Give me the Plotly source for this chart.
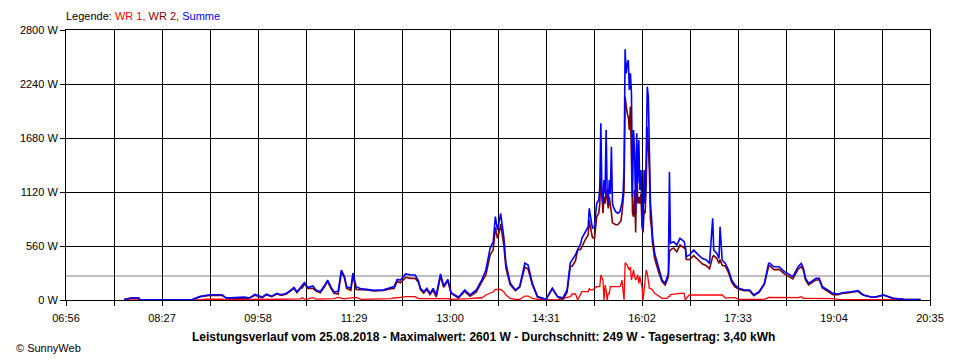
import plotly.graph_objects as go

# ---- data (time, Summe, WR 2, WR 1) ----
times = [
    "07:51", "07:58", "08:05", "08:06", "08:30", "08:56", "09:03", "09:08", "09:12", "09:24",
    "09:28", "09:36", "09:45", "09:50", "09:55", "10:02", "10:06", "10:11", "10:16", "10:20",
    "10:25", "10:29", "10:32", "10:35", "10:38", "10:40", "10:42", "10:45", "10:50", "10:53",
    "10:57", "11:01", "11:04", "11:07", "11:10", "11:14", "11:17", "11:20", "11:22", "11:26",
    "11:28", "11:31", "11:36", "11:41", "11:48", "11:57", "12:04", "12:07", "12:10", "12:13",
    "12:18", "12:23", "12:27", "12:30", "12:32", "12:35", "12:38", "12:41", "12:44", "12:47",
    "12:51", "12:54", "12:58", "13:01", "13:08", "13:14", "13:19", "13:25", "13:30", "13:34",
    "13:38", "13:41", "13:43", "13:45", "13:47", "13:48", "13:51", "13:53", "13:57", "14:02",
    "14:06", "14:11", "14:14", "14:18", "14:23", "14:31", "14:37", "14:40", "14:42", "14:47",
    "14:51", "14:54", "14:56", "14:59", "15:01", "15:04", "15:05", "15:08", "15:11", "15:12",
    "15:13", "15:15", "15:17", "15:19", "15:21", "15:22", "15:23", "15:24", "15:25", "15:26",
    "15:27", "15:28", "15:29", "15:30", "15:31", "15:32", "15:33", "15:34", "15:35", "15:37",
    "15:39", "15:41", "15:42", "15:43", "15:44", "15:45", "15:46", "15:47", "15:48", "15:49",
    "15:50", "15:51", "15:52", "15:53", "15:54", "15:55", "15:56", "15:57", "15:58", "15:59",
    "16:00", "16:01", "16:02", "16:03", "16:04", "16:05", "16:06", "16:07", "16:08", "16:09",
    "16:10", "16:11", "16:12", "16:14", "16:18", "16:21", "16:24", "16:26", "16:27", "16:28",
    "16:29", "16:32", "16:35", "16:38", "16:42", "16:43", "16:44", "16:47", "16:51", "16:54",
    "16:59", "17:03", "17:06", "17:09", "17:10", "17:13", "17:15", "17:16", "17:18", "17:21",
    "17:24", "17:27", "17:30", "17:34", "17:39", "17:44", "17:48", "17:53", "17:58", "18:02",
    "18:03", "18:07", "18:12", "18:17", "18:20", "18:25", "18:30", "18:33", "18:35", "18:37",
    "18:40", "18:44", "18:47", "18:50", "18:53", "18:58", "19:03", "19:08", "19:12", "19:20",
    "19:27", "19:29", "19:32", "19:40", "19:45", "19:51", "19:56", "20:00", "20:10", "20:26",
]

summe = [
    5, 20, 20, 5, 3, 5, 35, 50, 55, 55,
    20, 25, 30, 20, 58, 30, 60, 40, 70, 55,
    70, 100, 130, 86, 130, 150, 180, 130, 145, 104,
    86, 150, 207, 138, 83, 90, 311, 242, 138, 121,
    280, 138, 115, 110, 100, 105, 130, 140, 214, 207,
    270, 259, 259, 200, 121, 86, 121, 69, 121, 52,
    270, 145, 214, 76, 28, 104, 52, 104, 207, 311,
    536, 605, 864, 726, 830, 899, 656, 383, 176, 104,
    138, 383, 363, 176, 35, 7, 121, 60, 35, 21,
    104, 383, 415, 470, 520, 588, 640, 708, 760, 951,
    864, 746, 760, 1000, 1037, 1175, 1832, 1100, 1003, 1244,
    1106, 1763, 1100, 1003, 1244, 1100, 1590, 1003, 960, 916,
    900, 916, 960, 1003, 1100, 1348, 2600, 2351, 2450, 2489,
    2178, 2351, 2143, 1071, 1763, 1521, 900, 1729, 1210, 1659,
    1140, 1348, 899, 726, 1348, 1003, 1500, 2212, 2108, 1417,
    1000, 864, 656, 484, 311, 207, 173, 242, 277, 1330,
    588, 605, 570, 640, 605, 553, 449, 467, 518, 484,
    432, 415, 380, 847, 518, 484, 432, 760, 415, 380,
    311, 207, 156, 121, 104, 104, 52, 86, 173, 380,
    383, 345, 345, 294, 277, 242, 345, 380, 328, 225,
    173, 207, 225, 225, 138, 104, 69, 62, 76, 86,
    97, 76, 52, 28, 35, 52, 35, 17, 7, 5,
]

wr2 = [
    5, 20, 20, 5, 3, 5, 35, 42, 47, 47,
    20, 17, 22, 20, 50, 25, 55, 35, 62, 47,
    62, 90, 120, 76, 118, 126, 170, 120, 121, 94,
    76, 136, 193, 124, 69, 62, 290, 230, 121, 100,
    252, 110, 108, 103, 93, 98, 116, 119, 193, 179,
    235, 224, 224, 186, 107, 72, 107, 55, 100, 31,
    249, 131, 200, 69, 21, 90, 38, 83, 186, 259,
    467, 520, 753, 640, 720, 790, 570, 331, 159, 97,
    131, 342, 322, 159, 28, 5, 119, 58, 33, 4,
    80, 348, 353, 408, 520, 526, 554, 622, 674, 830,
    760, 650, 640, 860, 900, 1000, 1276, 1000, 900, 1070,
    1000, 1150, 1000, 950, 1070, 1000, 900, 800, 790, 780,
    780, 800, 820, 900, 1000, 1140, 2108, 2000, 1935, 1900,
    1763, 2005, 1417, 900, 864, 1140, 700, 1500, 1000, 1070,
    1000, 1100, 760, 700, 933, 900, 1200, 1797, 1600, 1348,
    830, 750, 588, 430, 280, 190, 155, 220, 240, 500,
    520, 540, 500, 570, 540, 553, 420, 420, 460, 430,
    375, 355, 325, 450, 460, 430, 380, 420, 360, 350,
    285, 185, 135, 112, 97, 97, 45, 79, 165, 350,
    355, 315, 318, 270, 253, 218, 320, 345, 310, 208,
    156, 190, 208, 210, 124, 90, 55, 55, 69, 79,
    90, 69, 50, 28, 35, 52, 35, 17, 7, 5,
]

wr1 = [
    0, 0, 0, 0, 0, 0, 0, 8, 8, 8,
    0, 8, 8, 0, 8, 5, 5, 5, 8, 8,
    8, 10, 10, 10, 12, 24, 10, 10, 24, 10,
    10, 14, 14, 14, 14, 28, 21, 12, 17, 21,
    28, 28, 7, 7, 7, 7, 14, 21, 21, 28,
    35, 35, 35, 14, 14, 14, 14, 14, 21, 21,
    21, 14, 14, 7, 7, 14, 14, 21, 21, 52,
    69, 85, 111, 111, 111, 109, 86, 52, 17, 7,
    7, 41, 41, 17, 7, 2, 2, 2, 2, 17,
    24, 35, 62, 62, 0, 62, 86, 86, 86, 121,
    104, 104, 120, 138, 138, 138, 259, 230, 207, 0,
    155, 100, 0, 69, 69, 138, 138, 138, 138, 138,
    138, 138, 160, 207, 100, 0, 387, 375, 363, 330,
    311, 345, 207, 260, 311, 242, 207, 230, 259, 173,
    242, 180, 138, 0, 150, 207, 311, 277, 200, 121,
    121, 115, 104, 70, 35, 17, 17, 20, 35, 35,
    55, 62, 69, 69, 69, 0, 20, 52, 52, 52,
    59, 59, 59, 52, 52, 52, 52, 52, 52, 20,
    24, 24, 24, 7, 7, 7, 7, 7, 7, 28,
    28, 28, 28, 24, 24, 24, 24, 35, 17, 17,
    17, 17, 17, 14, 14, 14, 14, 7, 7, 7,
    7, 7, 0, 0, 0, 0, 0, 0, 0, 0,
]

x_tick_labels = ["06:56", "08:27", "09:58", "11:29", "13:00",
                 "14:31", "16:02", "17:33", "19:04", "20:35"]
y_tick_values = [0, 560, 1120, 1680, 2240, 2800]
average_w = 249
title_text = ("Leistungsverlauf vom 25.08.2018 - Maximalwert: 2601 W - "
              "Durchschnitt: 249 W - Tagesertrag: 3,40 kWh")


def to_min(s):
    h, m = s.split(":")
    return int(h) * 60 + int(m)


x = [to_min(t) for t in times]

# ticks: labelled every 2nd gridline, midpoints unlabelled
lab_vals = [to_min(t) for t in x_tick_labels]
tickvals, ticktext = [], []
for i, v in enumerate(lab_vals):
    tickvals.append(v)
    ticktext.append(x_tick_labels[i])
    if i < len(lab_vals) - 1:
        tickvals.append((v + lab_vals[i + 1]) / 2)
        ticktext.append("")

FONT = "Liberation Sans, Arial, sans-serif"

fig = go.Figure()
fig.add_trace(go.Scatter(x=x, y=wr1, mode="lines", name="WR 1",
                         line=dict(color="#ff0000", width=1.3)))
fig.add_trace(go.Scatter(x=x, y=wr2, mode="lines", name="WR 2",
                         line=dict(color="#800000", width=1.6)))
fig.add_trace(go.Scatter(x=x, y=summe, mode="lines", name="Summe",
                         line=dict(color="#0000ff", width=1.6)))

fig.add_shape(type="line", xref="paper", x0=0, x1=1, yref="y",
              y0=average_w, y1=average_w,
              line=dict(color="#808080", width=1), layer="below")

# page has an 8px body margin: figure is 952x352 so that the plot
# area sits at x 60..930, y 30..300 in the 960x360 window
fig.update_layout(
    width=952, height=352,
    margin=dict(l=52, r=30, t=22, b=60),
    paper_bgcolor="white", plot_bgcolor="white",
    showlegend=False,
    font=dict(family=FONT, size=11, color="black"),
    xaxis=dict(range=[lab_vals[0], lab_vals[-1]], tickmode="array",
               tickvals=tickvals, ticktext=ticktext,
               showgrid=True, gridcolor="black", gridwidth=1,
               ticks="outside", ticklen=5, tickcolor="black", tickwidth=1,
               ticklabelstandoff=3,
               showline=True, linecolor="black", linewidth=1, mirror=True,
               zeroline=False, tickfont=dict(family=FONT, size=11)),
    yaxis=dict(range=[0, 2800], tickmode="array", tickvals=y_tick_values,
               ticktext=[f"{v} W" for v in y_tick_values],
               showgrid=True, gridcolor="black", gridwidth=1,
               ticks="outside", ticklen=5, tickcolor="black", tickwidth=1,
               showline=True, linecolor="black", linewidth=1, mirror=True,
               zeroline=False, tickfont=dict(family=FONT, size=11)),
    annotations=[
        dict(xref="paper", yref="paper", x=0, y=1.052, xanchor="left",
             yanchor="middle", showarrow=False, xshift=-2,
             text=("Legende: <span style='color:#ff0000'>WR 1,</span> "
                   "<span style='color:#800000'>WR 2,</span> "
                   "<span style='color:#0000ff'>Summe</span>"),
             font=dict(family=FONT, size=11, color="black")),
        dict(xref="paper", yref="paper", x=(480 - 60) / 870, y=-0.137,
             xanchor="center", yanchor="middle", showarrow=False,
             text="<b>" + title_text + "</b>",
             font=dict(family=FONT, size=12, color="black")),
        dict(xref="paper", yref="paper", x=-52 / 870, y=-0.178,
             xanchor="left", yanchor="middle", showarrow=False,
             text="© SunnyWeb",
             font=dict(family=FONT, size=11, color="black")),
    ],
)

fig.write_html("out.html")
